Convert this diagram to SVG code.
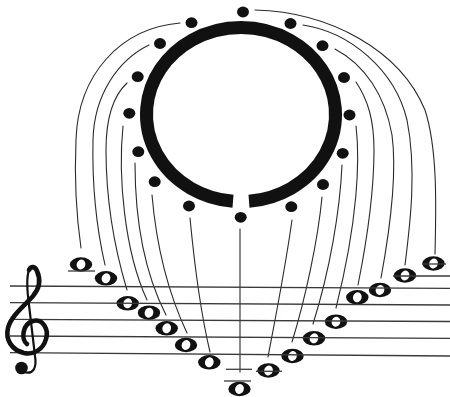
<svg xmlns="http://www.w3.org/2000/svg" width="450" height="397" viewBox="0 0 450 397">
<style>
.conn{fill:none;stroke:#2a2a2a;stroke-width:1.1;stroke-linecap:round}
.staff{stroke:#3a3a3a;stroke-width:1.3;fill:none}
.dot{fill:#111}
.ring{fill:none;stroke:#111;stroke-width:13;stroke-linecap:butt}
</style>
<defs>
<g id="wn">
<ellipse rx="11.2" ry="7.2" fill="#111"/>
<ellipse rx="4.3" ry="5" fill="#fff" transform="rotate(20)"/>
</g>
</defs>
<rect width="450" height="397" fill="#fff"/>

<g id="ring">
<path class="ring" d="M249,201.2 A94.5,87 0 1 0 233,201.2"/>
</g>

<g id="dots">
<g id="d1"><ellipse class="dot" cx="243" cy="12" rx="6" ry="5.4"/></g>
<g id="d2"><ellipse class="dot" cx="290.5" cy="23.5" rx="6" ry="5.4"/></g>
<g id="d3"><ellipse class="dot" cx="322.5" cy="45.7" rx="6" ry="5.4"/></g>
<g id="d4"><ellipse class="dot" cx="344" cy="77.5" rx="6" ry="5.4"/></g>
<g id="d5"><ellipse class="dot" cx="349.5" cy="115" rx="6" ry="5.4"/></g>
<g id="d6"><ellipse class="dot" cx="342.7" cy="153.3" rx="6" ry="5.4"/></g>
<g id="d7"><ellipse class="dot" cx="323" cy="184.5" rx="6" ry="5.4"/></g>
<g id="d8"><ellipse class="dot" cx="291.3" cy="206.7" rx="6" ry="5.4"/></g>
<g id="d9"><ellipse class="dot" cx="240.7" cy="217.3" rx="6" ry="5.4"/></g>
<g id="d10"><ellipse class="dot" cx="189" cy="206" rx="6" ry="5.4"/></g>
<g id="d11"><ellipse class="dot" cx="154.7" cy="181.7" rx="6" ry="5.4"/></g>
<g id="d12"><ellipse class="dot" cx="138.3" cy="151.7" rx="6" ry="5.4"/></g>
<g id="d13"><ellipse class="dot" cx="129.3" cy="113.3" rx="6" ry="5.4"/></g>
<g id="d14"><ellipse class="dot" cx="137.7" cy="76.7" rx="6" ry="5.4"/></g>
<g id="d15"><ellipse class="dot" cx="160" cy="43.5" rx="6" ry="5.4"/></g>
<g id="d16"><ellipse class="dot" cx="191.5" cy="22.7" rx="6" ry="5.4"/></g>
</g>

<g id="connectors">
<path class="conn" d="M180,23 C120,28 78,75 76,140 C74,185 77,220 81,248"/>
<path class="conn" d="M149,45 C118,60 94,95 93,140 C92,185 97,230 105,265"/>
<path class="conn" d="M127,83 C112,97 106,120 106,150 C106,200 115,250 127,290"/>
<path class="conn" d="M123,126 C118,175 124,250 147,300"/>
<path class="conn" d="M135,163 C135,200 138,260 166,315"/>
<path class="conn" d="M152,195 C155,230 162,280 187,333"/>
<path class="conn" d="M190,218 C194,260 200,310 210,352"/>
<path class="conn" d="M240,229 L240,372"/>
<path class="conn" d="M292,220 C285,270 275,320 268,357"/>
<path class="conn" d="M322,197 C318,240 305,300 292,342"/>
<path class="conn" d="M342,165 C340,210 330,270 313,324"/>
<path class="conn" d="M356,126 C360,160 358,220 336,308"/>
<path class="conn" d="M356,82 C368,100 374,120 374,150 C374,200 365,250 358,285"/>
<path class="conn" d="M335,49 C365,65 385,95 392,135 C398,180 388,240 381,278"/>
<path class="conn" d="M303,25 C350,32 395,70 407,120 C417,170 410,225 405,265"/>
<path class="conn" d="M255,10 C330,12 400,50 425,110 C438,150 436,210 435,254"/>
</g>

<g id="notes">
<g id="n1"><use href="#wn" x="81" y="264.5"/></g>
<g id="n2"><use href="#wn" x="106" y="278.3"/></g>
<g id="n3"><use href="#wn" x="127.7" y="303.3"/></g>
<g id="n4"><use href="#wn" x="149" y="312.7"/></g>
<g id="n5"><use href="#wn" x="166.7" y="328.3"/></g>
<g id="n6"><use href="#wn" x="186" y="345"/></g>
<g id="n7"><use href="#wn" x="209.3" y="362.3"/></g>
<g id="n8"><use href="#wn" x="239.5" y="389"/></g>
<g id="n9"><use href="#wn" x="268.5" y="370.5"/></g>
<g id="n10"><use href="#wn" x="292.5" y="356"/></g>
<g id="n11"><use href="#wn" x="314" y="338.3"/></g>
<g id="n12"><use href="#wn" x="336" y="321.7"/></g>
<g id="n13"><use href="#wn" x="357.3" y="297.3"/></g>
<g id="n14"><use href="#wn" x="380" y="290"/></g>
<g id="n15"><use href="#wn" x="405" y="275.5"/></g>
<g id="n16"><use href="#wn" x="433.5" y="263.5"/></g>
</g>

<g id="staff">
<line class="staff" x1="10" y1="286" x2="450" y2="288.3"/>
<line class="staff" x1="10" y1="302.7" x2="450" y2="305"/>
<line class="staff" x1="10" y1="319.3" x2="450" y2="321.5"/>
<line class="staff" x1="10" y1="336" x2="450" y2="338.3"/>
<line class="staff" x1="10" y1="352.7" x2="450" y2="356"/>
<line class="staff" x1="68" y1="271" x2="95" y2="271"/>
<line class="staff" x1="226" y1="369.3" x2="252" y2="369.3"/>
<line class="staff" x1="256" y1="371.3" x2="282" y2="371.3"/>
<line class="staff" x1="224" y1="381" x2="251" y2="381"/>
<line class="staff" x1="393" y1="276" x2="450" y2="276"/>
<line class="staff" x1="422" y1="264" x2="446" y2="264"/>
</g>

<g id="clef">
<path d="M27,344 C21,340 22,324 33,321 C43,318 49,330 46,339 C43,350 33,355 24,353 C12,350 5,340 8,328 C11,316 24,306 33,296 C39,289 41,280 37,271 C35,266 31,266 29,270" fill="none" stroke="#111" stroke-width="4.6" stroke-linecap="round"/>
<path d="M29,270 C26,278 27,290 29,305 L35,356 C37,368 33,375 24,372" fill="none" stroke="#111" stroke-width="2.2" stroke-linecap="round"/>
<circle cx="21.5" cy="368" r="6.3" fill="#111"/>
</g>
</svg>
